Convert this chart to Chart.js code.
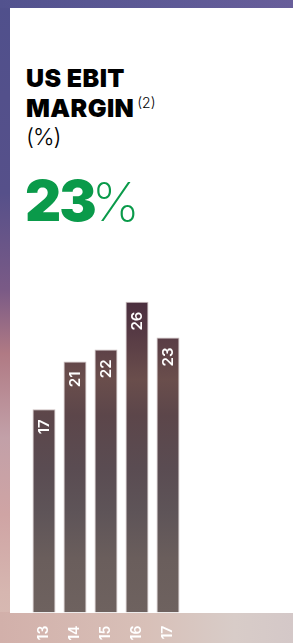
<!DOCTYPE html>
<html>
<head>
<meta charset="utf-8">
<script src="https://cdn.jsdelivr.net/npm/chart.js@4"></script>
<style>
  html, body { margin: 0; padding: 0; }
  body {
    width: 293px; height: 643px; overflow: hidden; position: relative;
    background: linear-gradient(180deg, #50508c 0%, #56508a 30%, #7a5a86 45%, #b07a84 55%, #c2a0a8 68%, #cfa4a4 80%, #d6b6b0 92%, #d8bcb4 100%);
    font-family: "Inter", "Noto Sans", sans-serif;
  }
  #top { position: absolute; left: 0; top: 0; width: 293px; height: 8px;
    background: linear-gradient(90deg, #52528e, #5e5a96 60%, #685e9a); }
  #bottom { position: absolute; left: 0; top: 612px; width: 293px; height: 31px;
    background: linear-gradient(90deg, #d2b0aa, #d8c0b8 50%, #d8ccc8 80%, #d4c8c8); }
  #panel { position: absolute; left: 10px; top: 8px; width: 283px; height: 604.6px; background: #fff; }
  .t { position: absolute; left: 26px; color: #000; white-space: nowrap; }
  #t1 { top: 63px; font-size: 25px; font-weight: 900; line-height: 30px; letter-spacing: 0.4px; }
  #t1 sup { font-size: 14px; font-weight: 300; vertical-align: 0; position: relative; top: -9px; margin-left: 3px; letter-spacing: 0; }
  #t2 { top: 122px; font-size: 23px; font-weight: 300; line-height: 30px; letter-spacing: -1px; }
  #big { top: 168px; left: 25px; color: #0a9a4a; font-size: 56px; line-height: 66px; }
  #big b { font-weight: 900; letter-spacing: -2px; }
  #big span { font-weight: 200; font-size: 54px; margin-left: -3px; }
  canvas { position: absolute; left: 0; top: 0; }
</style>
</head>
<body>
<div id="top"></div>
<div id="bottom"></div>
<div id="panel"></div>
<div class="t" id="t1">US EBIT<br>MARGIN<sup>(2)</sup></div>
<div class="t" id="t2">(%)</div>
<div class="t" id="big"><b>23</b><span>%</span></div>
<canvas id="grafica" width="293" height="643"></canvas>
<script>
const years = ["13", "14", "15", "16", "17"];
const margin = [17, 21, 22, 26, 23];

let ctx = document.getElementById("grafica").getContext("2d");

function barFill(context) {
    let area = context.chart.chartArea;
    if (!area) return "#5e4a4e";
    let g = context.chart.ctx.createLinearGradient(0, area.top, 0, area.bottom);
    g.addColorStop(0.0, "#3e2636");
    g.addColorStop(0.13, "#4a2e3e");
    g.addColorStop(0.22, "#563a44");
    g.addColorStop(0.35, "#6a4e4c");
    g.addColorStop(0.45, "#5c464a");
    g.addColorStop(0.6, "#5a4c52");
    g.addColorStop(0.72, "#5e5458");
    g.addColorStop(0.85, "#6a5e5c");
    g.addColorStop(1.0, "#6e625f");
    return g;
}

// numbers written inside the top of each bar
const valueLabels = {
    id: "valueLabels",
    afterDatasetsDraw(chart) {
        let c = chart.ctx;
        let meta = chart.getDatasetMeta(0);
        c.save();
        c.fillStyle = "#fff";
        c.font = "600 15px Inter, 'Noto Sans', sans-serif";
        c.textAlign = "right";
        c.textBaseline = "middle";
        meta.data.forEach((bar, i) => {
            c.save();
            c.translate(bar.x, bar.y + 10);
            c.rotate(-Math.PI / 2);
            c.fillText(String(margin[i]), 0, 0);
            c.restore();
        });
        c.restore();
    }
};

let grafica = new Chart(ctx, {
    type: "bar",
    data: {
        labels: years,
        datasets: [{
            label: "US EBIT margin",
            data: margin,
            backgroundColor: barFill,
            borderColor: "rgba(196,182,182,0.9)",
            borderWidth: 1,
            borderSkipped: "bottom",
            categoryPercentage: 1,
            barPercentage: 0.74
        }]
    },
    options: {
        responsive: false,
        animation: false,
        layout: { padding: { left: 28.5, right: 109.5, top: 253.8, bottom: 0 } },
        plugins: { legend: { display: false }, tooltip: { enabled: false } },
        scales: {
            y: { display: false, min: 0, max: 30 },
            x: {
                grid: { display: false, drawTicks: false },
                border: { display: false },
                ticks: {
                    color: "#fff",
                    font: { family: "Inter, 'Noto Sans', sans-serif", size: 14, weight: "600" },
                    minRotation: 90,
                    maxRotation: 90,
                    autoSkip: false,
                    padding: 13
                },
                afterFit: s => { s.height = 30.4; }
            }
        }
    },
    plugins: [valueLabels]
});
</script>
</body>
</html>
